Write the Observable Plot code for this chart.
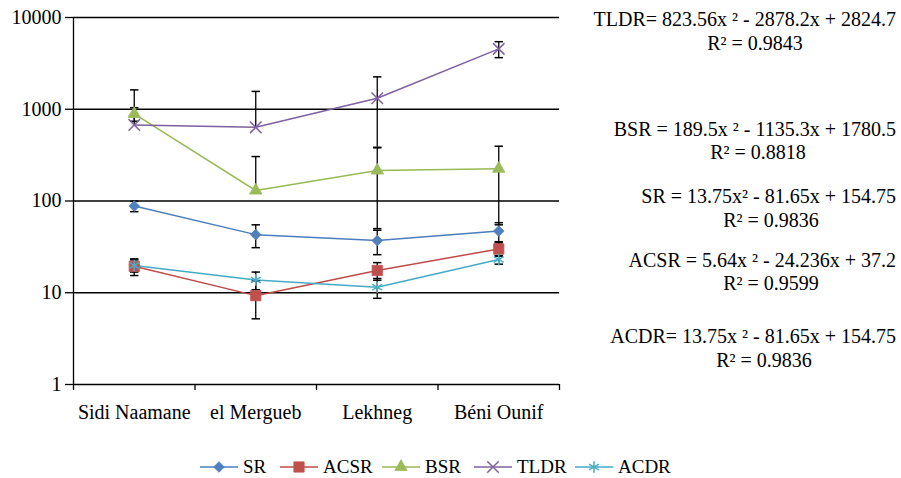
<!DOCTYPE html>
<html>
<head>
<meta charset="utf-8">
<script src="https://cdn.jsdelivr.net/npm/d3@7"></script>
<script src="https://cdn.jsdelivr.net/npm/@observablehq/plot@0.6"></script>
<style>
  body { margin: 0; background: #fff; font-family: "Liberation Serif", "Times New Roman", serif; }
  #chart { position: relative; width: 901px; height: 478px; overflow: hidden; }
  #chart svg { display: block; }
  #chart svg text { font-family: "Liberation Serif", "Times New Roman", serif !important; font-size: 20px !important; font-variant: normal !important; }
  .leg-item { position: absolute; top: 456px; display: flex; align-items: center; font-size: 19px; color: #000; line-height: 22px; }
  .leg-item svg { margin-right: 5px; }
</style>
</head>
<body>
<div id="chart"></div>
<script>
// ---------- data ----------
const categories = ["Sidi Naamane", "el Mergueb", "Lekhneg", "Béni Ounif"];
const seriesNames = ["SR", "ACSR", "BSR", "TLDR", "ACDR"];
const SR   = [88, 43, 37, 47];
const ACSR = [19.4, 9.3, 17.5, 30];
const BSR  = [890, 130, 215, 225];
const TLDR = [675, 635, 1320, 4550];
const ACDR = [19.8, 13.8, 11.5, 23];
const SR_err   = [11.5, 12, 11, 11];
const ACSR_err = [4, 4.1, 3.8, 5];
const BSR_err  = [150, 175, 165, 170];
const TLDR_err = [950, 930, 935, 900];
const ACDR_err = [3, 3, 2.8, 2.5];
const yTicks = [1, 10, 100, 1000, 10000];
const lineColors   = ["#4A7EBB", "#BE4B48", "#98B954", "#7D60A0", "#46AAC5"];
const markerColors = ["#4F81BD", "#C0504D", "#9BBB59", "#8064A2", "#4BACC6"];
const equations = [
  "TLDR= 823.56x \u00B2 - 2878.2x + 2824.7",
  "BSR = 189.5x \u00B2 - 1135.3x + 1780.5",
  "SR = 13.75x\u00B2 - 81.65x + 154.75",
  "ACSR = 5.64x \u00B2 - 24.236x + 37.2",
  "ACDR= 13.75x \u00B2 - 81.65x + 154.75"
];
const rSquared = ["R\u00B2 = 0.9843", "R\u00B2 = 0.8818", "R\u00B2 = 0.9836", "R\u00B2 = 0.9599", "R\u00B2 = 0.9836"];

// ---------- layout (not data) ----------
const eqLayout = [
  {eqY: 26, rY: 50, rX: 755},
  {eqY: 136, rY: 159, rX: 758},
  {eqY: 203, rY: 227, rX: 771},
  {eqY: 267, rY: 290, rX: 771},
  {eqY: 343, rY: 367, rX: 764}
];
const eqRight = 896;
const legendX = [200, 280, 382, 474, 575];

// ---------- build rows ----------
const values = {SR, ACSR, BSR, TLDR, ACDR};
const errs = {SR: SR_err, ACSR: ACSR_err, BSR: BSR_err, TLDR: TLDR_err, ACDR: ACDR_err};
const rows = [];
for (const s of seriesNames) {
  categories.forEach((c, i) => rows.push({series: s, cat: c, xi: i + 0.5, value: values[s][i], err: errs[s][i]}));
}
const lowerRows = rows.filter(d => d.value - d.err > 0);

const capSymbol = {draw(ctx) { ctx.moveTo(-4.2, 0); ctx.lineTo(4.2, 0); }};
const symbols = ["diamond2", "square", "triangle", "times", "asterisk"];
const radii = [4.8, 5.8, 4.6, 5.3, 5.4];
const filled = [true, true, true, false, false];

const markerMarks = seriesNames.map((s, k) => Plot.dot(rows.filter(d => d.series === s), {
  x: "xi", y: "value", symbol: symbols[k], r: radii[k],
  fill: filled[k] ? markerColors[k] : "none",
  stroke: markerColors[k], strokeWidth: filled[k] ? 0.8 : 1.5
}));

const plot = Plot.plot({
  width: 901, height: 440,
  marginTop: 17, marginBottom: 56, marginLeft: 73, marginRight: 342,
  style: "font-family: 'Liberation Serif', 'Times New Roman', serif; font-size: 20px; color: #000; background: transparent;",
  x: {type: "linear", domain: [0, 4]},
  y: {type: "log", domain: [1, 10000]},
  color: {domain: seriesNames, range: lineColors},
  marks: [
    Plot.ruleY(yTicks.slice(1), {stroke: "#000", strokeWidth: 1.3}),
    Plot.ruleY([1], {stroke: "#000", strokeWidth: 1.3}),
    Plot.ruleX([0], {stroke: "#000", strokeWidth: 1.3}),
    Plot.axisY({ticks: yTicks, tickFormat: d => String(d), tickSize: 8, tickPadding: 4, label: null, strokeWidth: 1.3, fontSize: 20}),
    Plot.axisX({ticks: [0, 1, 2, 3, 4], tickFormat: () => "", tickSize: 6, label: null, strokeWidth: 1.3}),
    Plot.axisX({ticks: [0.5, 1.5, 2.5, 3.5], tickFormat: d => categories[Math.floor(d)], tickSize: 0, tickPadding: 20, label: null, fontSize: 20}),
    Plot.line(rows, {x: "xi", y: "value", z: "series", stroke: "series", strokeWidth: 1.5}),
    Plot.ruleX(rows, {x: "xi", y1: "value", y2: d => d.value + d.err, stroke: "#000", strokeWidth: 1.3}),
    Plot.ruleX(lowerRows, {x: "xi", y1: d => d.value - d.err, y2: "value", stroke: "#000", strokeWidth: 1.3}),
    Plot.dot(rows, {x: "xi", y: d => d.value + d.err, symbol: capSymbol, r: 3, fill: "none", stroke: "#000", strokeWidth: 1.5}),
    Plot.dot(lowerRows, {x: "xi", y: d => d.value - d.err, symbol: capSymbol, r: 3, fill: "none", stroke: "#000", strokeWidth: 1.5}),
    ...markerMarks
  ]
});

const chart = document.getElementById("chart");
chart.appendChild(plot);

// trendline equations as text
const svg = d3.select(plot);
const g = svg.append("g").attr("fill", "#000");
equations.forEach((eq, k) => {
  g.append("text").attr("x", eqRight).attr("y", eqLayout[k].eqY).attr("text-anchor", "end").text(eq);
  g.append("text").attr("x", eqLayout[k].rX).attr("y", eqLayout[k].rY).attr("text-anchor", "middle").text(rSquared[k]);
});

// legend
seriesNames.forEach((s, k) => {
  const item = document.createElement("div");
  item.className = "leg-item";
  item.style.left = legendX[k] + "px";
  const sw = d3.create("svg").attr("width", 38).attr("height", 20);
  sw.append("line").attr("x1", 0).attr("x2", 38).attr("y1", 10).attr("y2", 10).attr("stroke", lineColors[k]).attr("stroke-width", 1.5);
  const symType = {diamond2: d3.symbolDiamond2, square: d3.symbolSquare, triangle: d3.symbolTriangle, times: d3.symbolTimes, asterisk: d3.symbolAsterisk}[symbols[k]];
  sw.append("path").attr("transform", "translate(19,10)")
    .attr("d", d3.symbol(symType, Math.PI * radii[k] * radii[k])())
    .attr("fill", filled[k] ? markerColors[k] : "none")
    .attr("stroke", markerColors[k]).attr("stroke-width", filled[k] ? 0.8 : 1.5);
  item.appendChild(sw.node());
  const t = document.createElement("span");
  t.textContent = s;
  item.appendChild(t);
  chart.appendChild(item);
});
</script>
</body>
</html>
